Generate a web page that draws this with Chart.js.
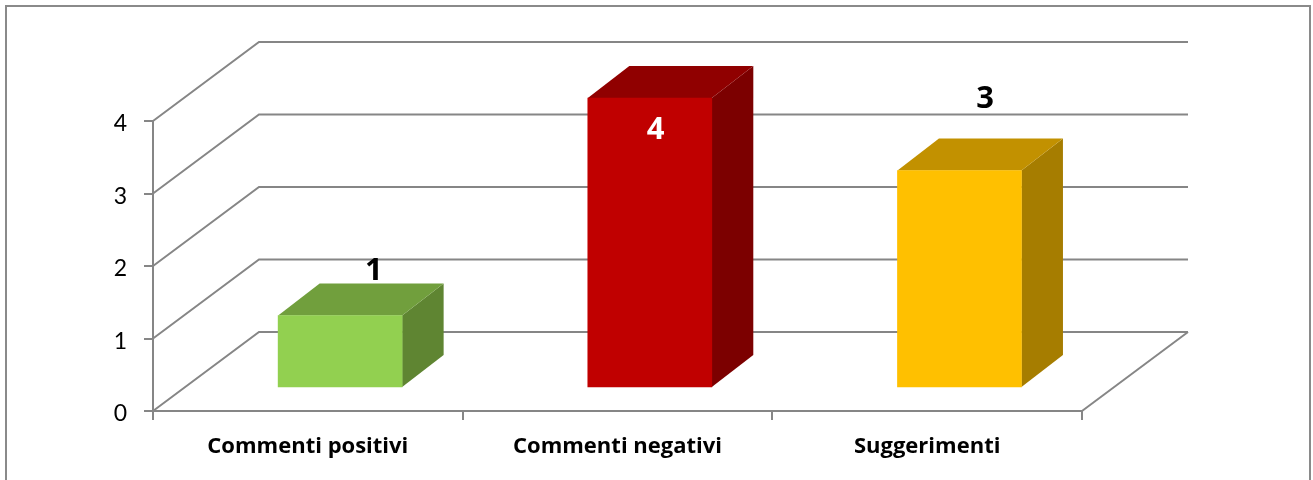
<!DOCTYPE html>
<html>
<head>
<meta charset="utf-8">
<title>Commenti</title>
<script src="https://cdn.jsdelivr.net/npm/chart.js@4"></script>
<style>
  html, body { margin: 0; padding: 0; background: #fff; overflow: hidden; }
  canvas { display: block; }
</style>
</head>
<body>
<canvas id="chart3d" width="1313" height="480"></canvas>
<script>
const categories = ["Commenti positivi", "Commenti negativi", "Suggerimenti"];
const values = [1, 4, 3];
const frontColors = ["#92D050", "#C00000", "#FFC000"];
const topColors = ["#719F3D", "#900000", "#C29100"];
const sideColors = ["#5F8532", "#7C0000", "#A67D00"];
const labelColors = ["#000000", "#FFFFFF", "#000000"];
// label offset from the top of the flat bar, as placed in the original
const labelOffsets = [[66, -67], [38, 9], [58, -94]];

const lineColor = "#868686";
const wallDx = 106, wallDy = -79;   // depth of the floor and walls
const barDx = 32.3, barDy = -23;    // bars stand inside the floor
const sideDx = 41.5, sideDy = -32;  // depth of one bar

function quad(ctx, pts, color) {
  ctx.fillStyle = color;
  ctx.beginPath();
  pts.forEach((p, i) => (i ? ctx.lineTo(p[0], p[1]) : ctx.moveTo(p[0], p[1])));
  ctx.closePath();
  ctx.fill();
}

const walls = {
  id: "walls",
  beforeDraw(chart) {
    const ctx = chart.ctx;
    ctx.save();
    ctx.strokeStyle = "#8A8A8A";
    ctx.lineWidth = 2;
    ctx.strokeRect(6, 6, 1304, 520);
    ctx.restore();
  },
  beforeDatasetsDraw(chart) {
    const { ctx, chartArea, scales } = chart;
    ctx.save();
    ctx.strokeStyle = lineColor;
    ctx.lineWidth = 2;
    ctx.lineJoin = "miter";
    scales.y.ticks.forEach((t) => {
      const y = scales.y.getPixelForValue(t.value);
      ctx.beginPath();
      ctx.moveTo(chartArea.left, y);
      ctx.lineTo(chartArea.left + wallDx, y + wallDy);
      ctx.lineTo(chartArea.right + wallDx, y + wallDy);
      ctx.stroke();
    });
    const y0 = scales.y.getPixelForValue(0);
    ctx.beginPath();
    ctx.moveTo(chartArea.right, y0);
    ctx.lineTo(chartArea.right + wallDx, y0 + wallDy);
    ctx.stroke();
    ctx.restore();
  },
};

const bars3d = {
  id: "bars3d",
  beforeDatasetDraw(chart, args) {
    const ctx = chart.ctx;
    ctx.save();
    ctx.translate(barDx, barDy);
    args.meta.data.forEach((el, i) => {
      const l = el.x - el.width / 2, r = el.x + el.width / 2;
      quad(ctx, [[r, el.y], [r + sideDx, el.y + sideDy], [r + sideDx, el.base + sideDy], [r, el.base]], sideColors[i]);
      quad(ctx, [[l, el.y], [l + sideDx, el.y + sideDy], [r + sideDx, el.y + sideDy], [r, el.y]], topColors[i]);
    });
  },
  afterDatasetDraw(chart) {
    chart.ctx.restore();
  },
  afterDatasetsDraw(chart) {
    const ctx = chart.ctx;
    ctx.save();
    ctx.font = "bold 31px 'Open Sans'";
    ctx.textAlign = "center";
    ctx.textBaseline = "middle";
    chart.getDatasetMeta(0).data.forEach((el, i) => {
      ctx.fillStyle = labelColors[i];
      ctx.fillText(String(values[i]), el.x + labelOffsets[i][0], el.y + labelOffsets[i][1]);
    });
    ctx.restore();
  },
};

new Chart(document.getElementById("chart3d").getContext("2d"), {
  type: "bar",
  data: {
    labels: categories,
    datasets: [
      {
        data: values,
        backgroundColor: frontColors,
        barThickness: 124,
        clip: false,
      },
    ],
  },
  options: {
    responsive: false,
    animation: false,
    layout: { padding: { top: 121, right: 231, left: 0, bottom: 0 } },
    plugins: {
      legend: { display: false },
      tooltip: { enabled: false },
    },
    scales: {
      x: {
        afterFit(scale) { scale.height = 69; },
        grid: { offset: true, drawOnChartArea: false, color: lineColor, lineWidth: 2, tickLength: 9 },
        border: { color: lineColor, width: 2 },
        ticks: { color: "#000", padding: 14, maxRotation: 0, font: { family: "Open Sans", size: 22, weight: "bold" } },
      },
      y: {
        min: 0,
        max: 4,
        afterFit(scale) { scale.width = 153; },
        grid: { drawOnChartArea: false, color: lineColor, lineWidth: 2, tickLength: 9 },
        border: { color: lineColor, width: 2 },
        ticks: { stepSize: 1, color: "#000", padding: 17, labelOffset: 3, font: { family: "Lato", size: 23 } },
      },
    },
  },
  plugins: [walls, bars3d],
});
</script>
</body>
</html>
